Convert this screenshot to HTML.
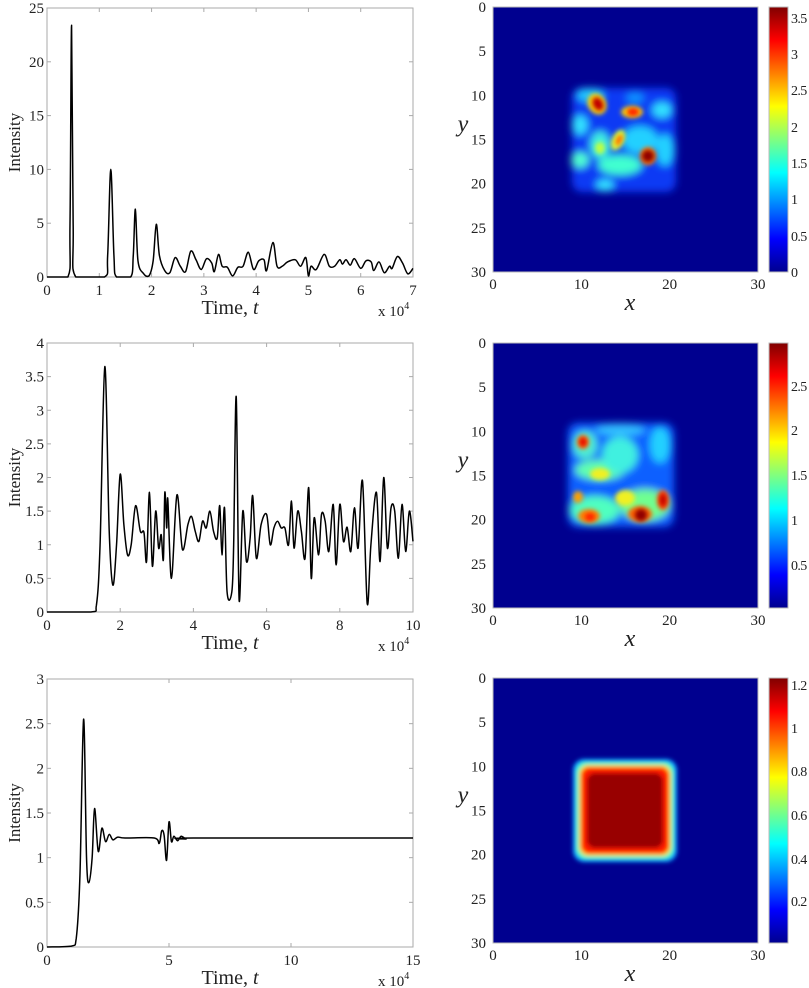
<!DOCTYPE html>
<html><head><meta charset="utf-8">
<style>
html,body{margin:0;padding:0;background:#fff;}
svg{display:block;font-family:"Liberation Serif",serif;}
.t{font-size:15px;fill:#222;}
.cb{font-size:14px;fill:#222;letter-spacing:-0.6px;}
</style></head>
<body>
<svg id="s" width="809" height="988" viewBox="0 0 809 988" xmlns="http://www.w3.org/2000/svg">
<defs>
<linearGradient id="jet" x1="0" y1="1" x2="0" y2="0">
<stop offset="0" stop-color="#00008f"/>
<stop offset="0.125" stop-color="#0000ff"/>
<stop offset="0.375" stop-color="#00ffff"/>
<stop offset="0.625" stop-color="#ffff00"/>
<stop offset="0.875" stop-color="#ff0000"/>
<stop offset="1" stop-color="#800000"/>
</linearGradient>
<filter id="b1" x="-50%" y="-50%" width="200%" height="200%"><feGaussianBlur stdDeviation="4"/></filter>
<filter id="b2" x="-50%" y="-50%" width="200%" height="200%"><feGaussianBlur stdDeviation="2.5"/></filter>
<filter id="b3" x="-50%" y="-50%" width="200%" height="200%"><feGaussianBlur stdDeviation="2"/></filter>
<clipPath id="c1"><rect x="493" y="7" width="265" height="265"/></clipPath>
<clipPath id="c2"><rect x="493" y="343" width="265" height="265"/></clipPath>
<clipPath id="c3"><rect x="493" y="678" width="265" height="265"/></clipPath>
</defs>
<g id="g"></g>

<!-- Heatmap 1 -->
<rect x="493" y="7" width="265" height="265" fill="#00008f"/>
<g clip-path="url(#c1)">
<g filter="url(#b1)">
<rect x="572" y="88" width="104" height="104" rx="10" fill="#0a40ff" opacity="0.9"/>
<ellipse cx="590" cy="95" rx="14" ry="7" fill="#20c8ff"/>
<ellipse cx="580" cy="125" rx="8" ry="10" fill="#30e0ff"/>
<ellipse cx="600" cy="145" rx="10" ry="14" fill="#40f0e0"/>
<ellipse cx="620" cy="165" rx="22" ry="10" fill="#40ffd0"/>
<ellipse cx="640" cy="140" rx="18" ry="14" fill="#20d0ff"/>
<ellipse cx="665" cy="150" rx="9" ry="16" fill="#20d0ff"/>
<ellipse cx="662" cy="110" rx="10" ry="8" fill="#30e0ff"/>
<ellipse cx="580" cy="160" rx="9" ry="8" fill="#50ffd0"/>
<ellipse cx="605" cy="185" rx="9" ry="6" fill="#30e0ff"/>
<ellipse cx="635" cy="98" rx="9" ry="6" fill="#1090ff"/>
</g>
<g filter="url(#b2)">
<ellipse cx="597" cy="104" rx="9" ry="11" fill="#ffd000" transform="rotate(-30 597 104)"/>
<ellipse cx="632" cy="112" rx="11" ry="6" fill="#ffd000"/>
<ellipse cx="618" cy="140" rx="6" ry="11" fill="#e0ff30" transform="rotate(25 618 140)"/>
<ellipse cx="648" cy="156" rx="8" ry="9" fill="#ff8000"/>
<ellipse cx="600" cy="148" rx="5" ry="6" fill="#c0ff40"/>
</g>
<g filter="url(#b3)">
<ellipse cx="598" cy="104" rx="5" ry="7" fill="#c00000" transform="rotate(-30 598 104)"/>
<ellipse cx="633" cy="112" rx="6" ry="4" fill="#ff2000"/>
<ellipse cx="619" cy="140" rx="3" ry="6" fill="#ff7000" transform="rotate(25 619 140)"/>
<ellipse cx="648" cy="156" rx="6" ry="6" fill="#900000"/>
</g>
</g>
<rect x="493" y="7" width="265" height="265" fill="none" stroke="#bbb" stroke-width="1"/>
<rect x="769" y="7" width="19" height="265" fill="url(#jet)" stroke="#bbb"/>

<!-- Heatmap 2 -->
<rect x="493" y="343" width="265" height="265" fill="#00008f"/>
<g clip-path="url(#c2)">
<g filter="url(#b1)">
<rect x="568" y="423" width="106" height="104" rx="10" fill="#1060ff"/>
<ellipse cx="600" cy="470" rx="25" ry="10" fill="#60ffb0"/>
<ellipse cx="620" cy="455" rx="18" ry="18" fill="#40f0e0"/>
<ellipse cx="595" cy="510" rx="25" ry="14" fill="#50ffc0"/>
<ellipse cx="645" cy="505" rx="25" ry="16" fill="#70ff90"/>
<ellipse cx="660" cy="445" rx="10" ry="18" fill="#20d0ff"/>
<ellipse cx="585" cy="445" rx="12" ry="14" fill="#50f0d0"/>
<ellipse cx="620" cy="430" rx="25" ry="6" fill="#30c0ff"/>
</g>
<g filter="url(#b2)">
<ellipse cx="583" cy="442" rx="6" ry="7" fill="#ff6000"/>
<ellipse cx="589" cy="516" rx="11" ry="7" fill="#ff8000"/>
<ellipse cx="640" cy="514" rx="12" ry="8" fill="#ff6000"/>
<ellipse cx="663" cy="500" rx="6" ry="10" fill="#ff4000"/>
<ellipse cx="578" cy="497" rx="5" ry="6" fill="#ffa000"/>
<ellipse cx="600" cy="474" rx="10" ry="6" fill="#f0f020"/>
<ellipse cx="625" cy="498" rx="10" ry="8" fill="#f0f020"/>
</g>
<g filter="url(#b3)">
<ellipse cx="641" cy="515" rx="6" ry="6" fill="#900000"/>
<ellipse cx="663" cy="500" rx="3" ry="6" fill="#c00000"/>
<ellipse cx="583" cy="442" rx="3" ry="4" fill="#e00000"/>
<ellipse cx="590" cy="517" rx="5" ry="4" fill="#ff2000"/>
</g>
</g>
<rect x="493" y="343" width="265" height="265" fill="none" stroke="#bbb"/>
<rect x="769" y="343" width="19" height="265" fill="url(#jet)" stroke="#bbb"/>

<!-- Heatmap 3 -->
<rect x="493" y="678" width="265" height="265" fill="#00008f"/>
<g clip-path="url(#c3)">
<g filter="url(#b3)">
<rect x="573" y="759" width="104" height="103" rx="11" fill="#10a0ff"/>
<rect x="576" y="762" width="98" height="97" rx="10" fill="#40ffc0"/>
<rect x="579" y="765" width="92" height="91" rx="9" fill="#ffd000"/>
<rect x="581" y="767" width="88" height="87" rx="9" fill="#ff1a00"/>
<rect x="587" y="773" width="76" height="75" rx="8" fill="#980000"/>
</g>
</g>
<rect x="493" y="678" width="265" height="265" fill="none" stroke="#bbb"/>
<rect x="769" y="678" width="19" height="265" fill="url(#jet)" stroke="#bbb"/>

<g class="cb">
<text x="791" y="23">3.5</text><text x="791" y="59">3</text><text x="791" y="95">2.5</text><text x="791" y="132">2</text><text x="791" y="168">1.5</text><text x="791" y="204">1</text><text x="791" y="241">0.5</text><text x="791" y="277">0</text>
<text x="791" y="391">2.5</text><text x="791" y="435">2</text><text x="791" y="480">1.5</text><text x="791" y="525">1</text><text x="791" y="570">0.5</text>
<text x="791" y="690">1.2</text><text x="791" y="733">1</text><text x="791" y="776">0.8</text><text x="791" y="820">0.6</text><text x="791" y="864">0.4</text><text x="791" y="906">0.2</text>
</g>
<g id="hl" class="t"></g>
<g id="ll" class="t"></g>
</svg>
<script>
(function(){
var NS="http://www.w3.org/2000/svg";
var g=document.getElementById('g'),hl=document.getElementById('hl'),ll=document.getElementById('ll');
function el(n,a,p,txt){var e=document.createElementNS(NS,n);for(var k in a)e.setAttribute(k,a[k]);if(txt!=null)e.textContent=txt;(p||g).appendChild(e);return e;}
[[7,272],[343,608],[678,943]].forEach(function(r){
 var t=r[0],b=r[1],h=b-t;
 for(var i=0;i<=6;i++){var y=t+h*i/6;el('text',{x:486,y:y+5,'text-anchor':'end'},hl,String(i*5));}
 for(var i=0;i<=3;i++){var x=493+265*i/3;el('text',{x:x,y:b+17,'text-anchor':'middle'},hl,String(i*10));}
 el('text',{x:630,y:b+38,'text-anchor':'middle','font-size':'24','font-style':'italic'},hl,'x');
 el('text',{x:463,y:t+h*0.47,'text-anchor':'middle','font-size':'24','font-style':'italic'},hl,'y');
});
function plot(o){
 var L=47,R=413,T=o.t,B=o.b,W=R-L,H=B-T;
 el('rect',{x:L,y:T,width:W,height:H,fill:'none',stroke:'#aaa','stroke-width':1});
 for(var i=0;i<o.xt.length;i++){var v=o.xt[i],x=L+W*v/o.xmax;
  if(v>0&&v<o.xmax){el('line',{x1:x,y1:B,x2:x,y2:B-4,stroke:'#aaa'});el('line',{x1:x,y1:T,x2:x,y2:T+4,stroke:'#aaa'});}
  el('text',{x:x,y:B+18,'text-anchor':'middle'},ll,String(v));}
 for(var i=0;i<o.yt.length;i++){var v=o.yt[i],y=B-H*v/o.ymax;
  if(v>0&&v<o.ymax){el('line',{x1:L,y1:y,x2:L+4,y2:y,stroke:'#aaa'});el('line',{x1:R,y1:y,x2:R-4,y2:y,stroke:'#aaa'});}
  el('text',{x:L-3,y:y+5,'text-anchor':'end'},ll,String(v));}
 var tl=el('text',{x:230,y:B+37,'text-anchor':'middle','font-size':'20'},ll,'Time, ');
 el('tspan',{'font-style':'italic'},tl,'t');
 var xe=el('text',{x:378,y:B+39,'font-size':'15'},ll,'x 10');
 el('tspan',{dy:-7,'font-size':'10'},xe,'4');
 el('text',{x:0,y:0,'text-anchor':'middle','font-size':'17',transform:'translate(20,'+(T+H/2)+') rotate(-90)'},ll,'Intensity');
 var p=o.pts.map(function(q){return [L+W*q[0]/o.xmax,B-H*q[1]/o.ymax];});
 var d='M'+p[0][0].toFixed(2)+' '+p[0][1].toFixed(2);
 for(var i=0;i<p.length-1;i++){
  var p0=p[Math.max(0,i-1)],p1=p[i],p2=p[i+1],p3=p[Math.min(p.length-1,i+2)];
  var c1=[p1[0]+(p2[0]-p0[0])/6,p1[1]+(p2[1]-p0[1])/6],c2=[p2[0]-(p3[0]-p1[0])/6,p2[1]-(p3[1]-p1[1])/6];
  c1[1]=Math.min(c1[1],B);c2[1]=Math.min(c2[1],B);
  d+='C'+c1[0].toFixed(2)+' '+c1[1].toFixed(2)+' '+c2[0].toFixed(2)+' '+c2[1].toFixed(2)+' '+p2[0].toFixed(2)+' '+p2[1].toFixed(2);
 }
 el('path',{d:d,fill:'none',stroke:'#000','stroke-width':1.5,'stroke-linejoin':'round'});
}
plot({t:8,b:277,xmax:7,ymax:25,xt:[0,1,2,3,4,5,6,7],yt:[0,5,10,15,20,25],pts:[
[0,0],[0.4,0],[0.44,5],[0.47,23.4],[0.5,5],[0.55,0],[1.1,0],[1.16,2],[1.22,10],[1.28,2],[1.33,0],[1.6,0],[1.65,2],[1.69,6.3],[1.74,1.5],[1.85,0.3],[1.95,0.1],[2.03,1.5],[2.09,4.9],[2.15,2],[2.25,0.6],[2.35,0.4],[2.45,1.8],[2.55,1],[2.65,0.5],[2.75,2.4],[2.85,1.6],[2.95,0.7],[3.05,1.7],[3.15,1.3],[3.2,0.5],[3.28,2.1],[3.35,1.0],[3.45,0.9],[3.55,0.1],[3.65,0.9],[3.75,1],[3.85,2.3],[3.95,0.7],[4.05,1.5],[4.15,1.6],[4.2,0.6],[4.32,3.2],[4.4,1],[4.5,1],[4.6,1.4],[4.75,1.6],[4.85,1],[4.95,1.8],[5.0,0.1],[5.05,1],[5.15,0.7],[5.3,2.1],[5.4,1],[5.5,1],[5.6,1.6],[5.65,1.2],[5.72,1.6],[5.8,1.1],[5.88,1.7],[6.0,0.8],[6.1,1.5],[6.2,1.4],[6.25,0.6],[6.35,1.4],[6.45,0.4],[6.55,1],[6.6,0.8],[6.7,1.9],[6.8,1.3],[6.9,0.3],[7.0,0.8]]});
plot({t:343,b:612,xmax:10,ymax:4,xt:[0,2,4,6,8,10],yt:[0,0.5,1,1.5,2,2.5,3,3.5,4],pts:[
[0,0],[1.2,0],[1.35,0.1],[1.45,1.0],[1.58,3.65],[1.7,1.2],[1.8,0.4],[1.9,1],[2.0,2.05],[2.1,1.3],[2.2,0.85],[2.3,1],[2.42,1.58],[2.55,1.2],[2.65,1.18],[2.72,0.75],[2.8,1.78],[2.88,0.68],[2.97,1.5],[3.05,0.95],[3.12,1.15],[3.18,0.78],[3.22,1.78],[3.27,1.25],[3.3,1.68],[3.4,0.5],[3.55,1.74],[3.7,0.93],[3.85,1.3],[3.95,1.42],[4.05,1.2],[4.15,1.05],[4.25,1.35],[4.35,1.25],[4.45,1.5],[4.55,1.2],[4.65,1.1],[4.72,1.58],[4.78,0.85],[4.85,1.55],[4.92,0.3],[5.05,0.3],[5.1,1.0],[5.17,3.2],[5.25,0.17],[5.35,1.5],[5.45,0.75],[5.55,1.1],[5.62,1.73],[5.72,0.8],[5.85,1.3],[6.0,1.45],[6.1,1.0],[6.2,1.25],[6.3,1.35],[6.4,1.25],[6.5,1.25],[6.6,1.0],[6.68,1.65],[6.75,0.95],[6.85,1.5],[6.95,1.2],[7.05,0.8],[7.15,1.85],[7.22,0.5],[7.3,1.4],[7.42,0.85],[7.5,1.45],[7.6,1.35],[7.7,0.9],[7.82,1.6],[7.9,0.7],[8.0,1.6],[8.1,1.05],[8.2,1.26],[8.3,0.9],[8.4,1.55],[8.5,0.95],[8.62,1.95],[8.75,0.12],[8.85,1.0],[9.0,1.78],[9.1,0.75],[9.2,2.0],[9.3,0.95],[9.4,1.55],[9.5,1.5],[9.6,0.8],[9.7,1.6],[9.8,0.9],[9.9,1.5],[10,1.05]]});
plot({t:679,b:947,xmax:15,ymax:3,xt:[0,5,10,15],yt:[0,0.5,1,1.5,2,2.5,3],pts:[
[0,0],[1,0.01],[1.2,0.1],[1.35,0.8],[1.5,2.55],[1.62,1.0],[1.72,0.72],[1.85,1.0],[1.95,1.55],[2.1,1.07],[2.25,1.33],[2.4,1.18],[2.55,1.26],[2.7,1.2],[2.9,1.23],[3.2,1.22],[4.4,1.22],[4.6,1.16],[4.7,1.3],[4.8,1.25],[4.9,0.97],[5.0,1.4],[5.1,1.18],[5.2,1.24],[5.35,1.19],[5.5,1.24],[5.7,1.21],[6,1.22],[15,1.22]]});
})();
</script>
</body></html>
